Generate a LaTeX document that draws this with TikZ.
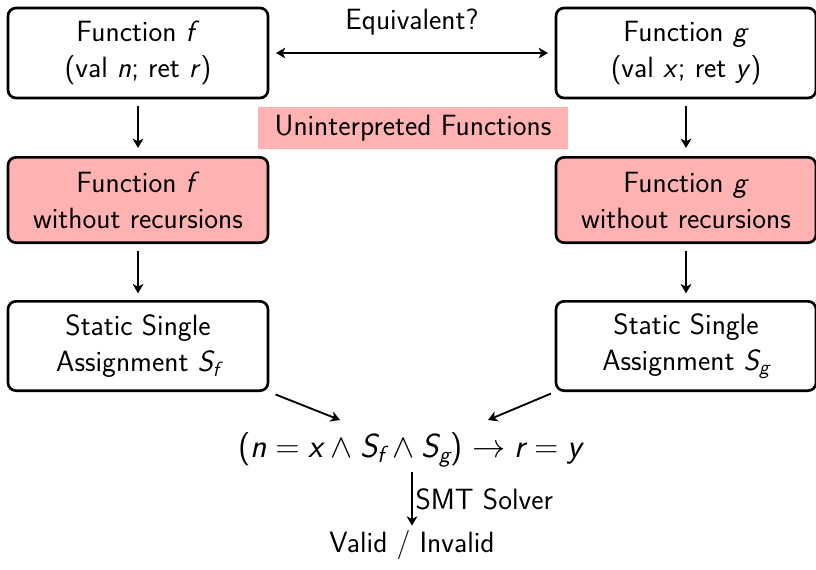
\documentclass[tikz,border=0pt]{standalone}
\usepackage{amsmath}
\usetikzlibrary{arrows.meta}
\newcommand{\mi}[1]{\text{\sffamily\itshape #1}}
\begin{document}
\begin{tikzpicture}[x=0.75pt,y=-0.75pt,
  every node/.style={font=\sffamily\fontsize{22}{27}\selectfont},
  fbox/.style={draw,line width=2pt,rounded corners=6pt,align=center,
    minimum width=195pt,inner sep=0pt},
  redbox/.style={fbox,fill=red!30},
  tip/.tip={Stealth[length=7pt,width=8pt,inset=2pt]},
  conn/.style={line width=1.4pt,-tip},
]
\useasboundingbox (0,0) rectangle (816,569);
\node[fbox,minimum height=67.5pt] (fA) at (138,53) {Function \textit{f}\\(val \textit{n}; ret \textit{r})};
\node[fbox,minimum height=67.5pt] (gA) at (686,53) {Function \textit{g}\\(val \textit{x}; ret \textit{y})};
\node[redbox,minimum height=64pt] (fB) at (138,200) {Function \textit{f}\\without recursions};
\node[redbox,minimum height=64pt] (gB) at (686,200) {Function \textit{g}\\without recursions};
\node[fbox,minimum height=67pt] (fC) at (138,346) {Static Single\\Assignment $\mi{S}_{\mi{f}}$};
\node[fbox,minimum height=67pt] (gC) at (686,346) {Static Single\\Assignment $\mi{S}_{\mi{g}}$};
\node[fill=red!30,minimum width=232pt,minimum height=32pt,inner sep=0pt] (uf) at (413,128) {Uninterpreted Functions};
\node (eq) at (412,22) {Equivalent?};
\node[font=\sffamily\fontsize{25}{27}\selectfont] (formula) at (410,450) {$\text{(}\mi{n} = \mi{x} \wedge \mi{S}_{\mi{f}} \wedge \mi{S}_{\mi{g}}\text{)} \rightarrow \mi{r} = \mi{y}$};
\node (valid) at (412,545) {Valid / Invalid};
\coordinate (fin) at (340,420);
\coordinate (gin) at (488,420);
\draw[conn,tip-tip,shorten <=5pt,shorten >=5pt] (fA.east) -- (gA.west);
\draw[conn,shorten <=5pt,shorten >=6pt] (fA.south) -- (fB.north);
\draw[conn,shorten <=5pt,shorten >=6pt] (gA.south) -- (gB.north);
\draw[conn,shorten <=5pt,shorten >=5pt] (fB.south) -- (fC.north);
\draw[conn,shorten <=5pt,shorten >=5pt] (gB.south) -- (gC.north);
\draw[conn,shorten <=5pt] (fC.south east) -- (fin);
\draw[conn,shorten <=3pt] (gC.south west) -- (gin);
\draw[conn] (formula.south -| valid.north) -- node[right,inner sep=2pt] {SMT Solver} (valid.north);
\end{tikzpicture}
\end{document}
